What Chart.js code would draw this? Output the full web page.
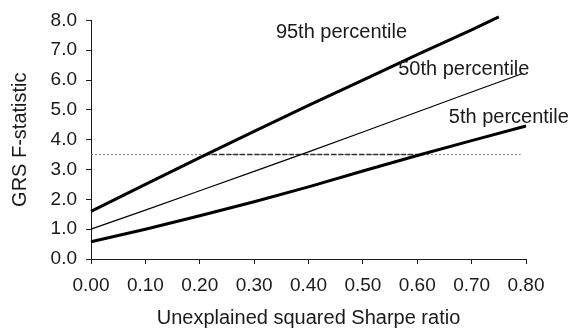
<!DOCTYPE html>
<html lang="en">
<head>
  <meta charset="UTF-8">
  <title>GRS F-statistic percentiles</title>
  <style>
    html, body { margin: 0; padding: 0; background: #fff; }
    #wrap { width: 574px; height: 332px; }
  </style>
</head>
<body>
  <div id="wrap"><canvas id="grsChart" width="574" height="332"></canvas></div>

  <script src="https://cdn.jsdelivr.net/npm/chart.js"></script>
  <script>
    // unexplained squared Sharpe ratio (x) against the F-statistic percentiles
    const xTicks = [0, 0.1, 0.2, 0.3, 0.4, 0.5, 0.6, 0.7, 0.8];
    const yTicks = [0, 1, 2, 3, 4, 5, 6, 7, 8];

    const x95 = [0, 0.1, 0.2, 0.3, 0.4, 0.5, 0.6, 0.7, 0.75];
    const p95 = [1.6, 2.5, 3.4, 4.28, 5.15, 6.0, 6.85, 7.68, 8.12];

    const x50 = [0, 0.1, 0.2, 0.3, 0.4, 0.5, 0.6, 0.7, 0.795];
    const p50 = [1.0, 1.64, 2.29, 2.94, 3.59, 4.26, 4.93, 5.6, 6.23];

    const x5 = [0, 0.1, 0.2, 0.3, 0.4, 0.5, 0.6, 0.7, 0.8];
    const p5 = [0.58, 1.0, 1.45, 1.92, 2.42, 2.95, 3.47, 3.97, 4.46];

    // critical value line and the stretch between the 95th and 5th crossings
    const critical = 3.5;
    const criticalSpan = [0, 0.79];
    const crossSpan = [0.21, 0.6];

    const seriesNames = ['95th percentile', '50th percentile', '5th percentile'];

    const FONT = '"Liberation Sans", Arial, sans-serif';
    const INK = '#1a1a1a';

    const pts = (xs, ys) => xs.map((x, i) => ({ x: x, y: ys[i] }));

    // label anchors in data units (left edge, baseline)
    const labelAt = [
      { x: 0.34, y: 7.4 },
      { x: 0.565, y: 6.16 },
      { x: 0.658, y: 4.57 }
    ];

    const curveLabels = {
      id: 'curveLabels',
      afterDatasetsDraw(chart) {
        const { ctx, scales } = chart;
        ctx.save();
        ctx.font = '20px ' + FONT;
        ctx.fillStyle = INK;
        ctx.textAlign = 'left';
        ctx.textBaseline = 'alphabetic';
        seriesNames.forEach((name, i) => {
          ctx.fillText(name, scales.x.getPixelForValue(labelAt[i].x), scales.y.getPixelForValue(labelAt[i].y));
        });
        ctx.restore();
      }
    };

    const curve = (label, data, width) => ({
      label: label,
      data: data,
      borderColor: '#000',
      borderWidth: width,
      pointRadius: 0,
      tension: 0,
      fill: false,
      clip: false
    });

    new Chart(document.getElementById('grsChart'), {
      type: 'line',
      data: {
        datasets: [
          curve(seriesNames[0], pts(x95, p95), 3),
          curve(seriesNames[1], pts(x50, p50), 1.2),
          curve(seriesNames[2], pts(x5, p5), 3),
          {
            label: 'crossing',
            data: crossSpan.map(x => ({ x: x, y: critical })),
            borderColor: '#333',
            borderWidth: 1.5,
            borderDash: [5, 2],
            pointRadius: 0
          },
          {
            label: 'critical',
            data: criticalSpan.map(x => ({ x: x, y: critical })),
            borderColor: '#777',
            borderWidth: 1,
            borderDash: [2, 2],
            pointRadius: 0
          }
        ]
      },
      options: {
        responsive: false,
        animation: false,
        layout: { padding: { top: 18, right: 48, left: 0, bottom: 0 } },
        plugins: { legend: { display: false }, tooltip: { enabled: false } },
        scales: {
          x: {
            type: 'linear',
            min: 0,
            max: 0.8,
            afterBuildTicks: s => { s.ticks = xTicks.map(v => ({ value: v })); },
            afterFit: s => { s.height = 73; },
            grid: { drawOnChartArea: false, drawTicks: true, tickLength: 5, color: INK },
            border: { display: true, color: INK, width: 1 },
            ticks: {
              callback: v => Number(v).toFixed(2),
              font: { family: FONT, size: 19 },
              color: INK,
              padding: 10,
              maxRotation: 0
            },
            title: {
              display: true,
              text: 'Unexplained squared Sharpe ratio',
              font: { family: FONT, size: 20 },
              color: INK,
              padding: { top: 0, bottom: 2 }
            }
          },
          y: {
            type: 'linear',
            min: 0,
            max: 8,
            afterBuildTicks: s => { s.ticks = yTicks.map(v => ({ value: v })); },
            afterFit: s => { s.width = 91; },
            grid: { drawOnChartArea: false, drawTicks: true, tickLength: 5, color: INK },
            border: { display: true, color: INK, width: 1 },
            ticks: {
              callback: v => Number(v).toFixed(1),
              font: { family: FONT, size: 19 },
              color: INK,
              padding: 9
            },
            title: {
              display: true,
              text: 'GRS F-statistic',
              font: { family: FONT, size: 20 },
              color: INK,
              padding: { top: 8, bottom: 0 }
            }
          }
        }
      },
      plugins: [curveLabels]
    });
  </script>
</body>
</html>
